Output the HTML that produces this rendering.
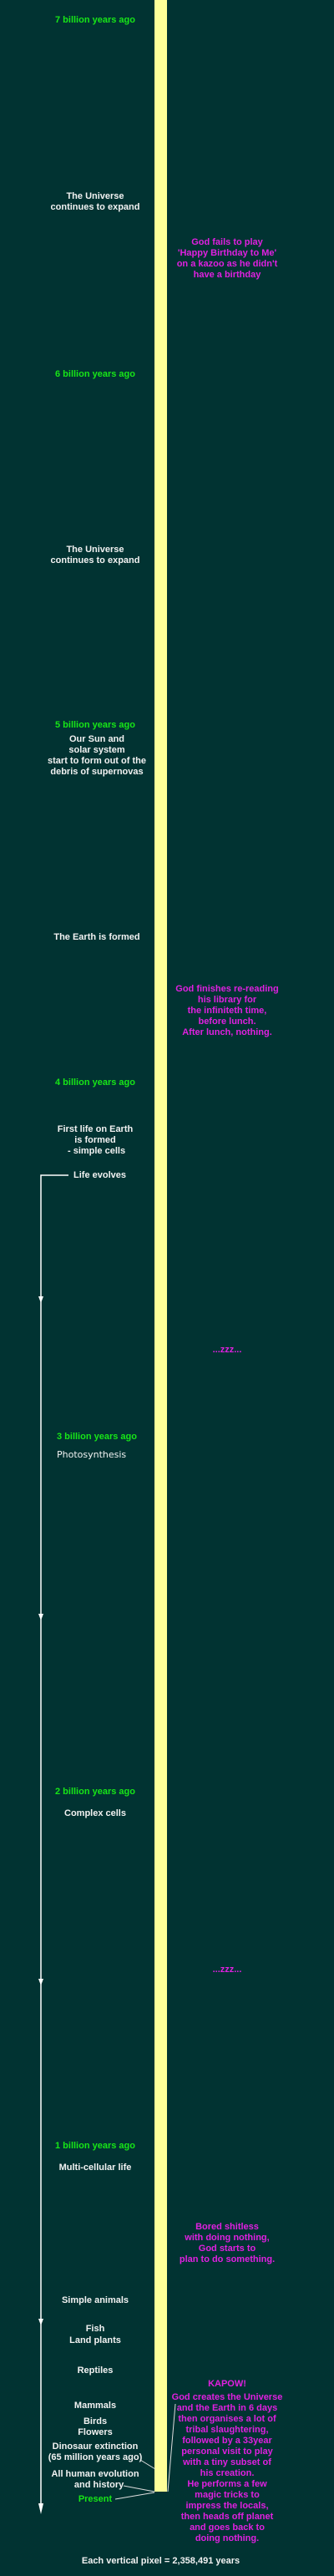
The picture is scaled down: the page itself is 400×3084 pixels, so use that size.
<!DOCTYPE html>
<html><head><meta charset="utf-8"><style>
html,body{margin:0;padding:0;}
body{width:400px;height:3084px;background:#013332;position:relative;overflow:hidden;font-family:"Liberation Sans",Arial,sans-serif;font-weight:bold;font-size:11px;line-height:13px;}
.t{position:absolute;text-align:center;white-space:nowrap;}
.l{left:0;width:228px;color:#f2f2f2;}
.g{color:#17e617;}
.r{left:172px;width:200px;color:#e020e0;}
svg{position:absolute;left:0;top:0;}
</style></head><body>
<svg width="400" height="3084">
<rect x="185" y="0" width="15" height="2983" fill="#ffff99"/>
<g stroke="#fff" stroke-width="1.5" fill="none">
<polyline points="82,1407 49,1407 49,3005"/>
</g>
<g fill="#fff">
<polygon points="46,1552 52,1552 49,1560"/>
<polygon points="46,1932 52,1932 49,1940"/>
<polygon points="46,2369 52,2369 49,2377"/>
<polygon points="46,2776 52,2776 49,2784"/>
<polygon points="46,2997 52,2997 49,3010"/>
</g>
<g stroke="#ddd" stroke-width="1">
<line x1="168" y1="2945" x2="186" y2="2956"/>
<line x1="148" y1="2976" x2="185" y2="2983"/>
<line x1="138" y1="2992" x2="185" y2="2984"/>
<line x1="210" y1="2878" x2="201" y2="2983"/>
</g>
</svg>
<div class="t l g" style="top:18px">7 billion years ago</div>
<div class="t l" style="top:229px">The Universe<br>continues to expand</div>
<div class="t r" style="top:284px">God fails to play<br>'Happy Birthday to Me'<br>on a kazoo as he didn't<br>have a birthday</div>
<div class="t l g" style="top:442px">6 billion years ago</div>
<div class="t l" style="top:652px">The Universe<br>continues to expand</div>
<div class="t l g" style="top:862px">5 billion years ago</div>
<div class="t l" style="top:879px;left:2px">Our Sun and<br>solar system<br>start to form out of the<br>debris of supernovas</div>
<div class="t l" style="top:1116px;left:2px">The Earth is formed</div>
<div class="t r" style="top:1178px">God finishes re-reading<br>his library for<br>the infiniteth time,<br>before lunch.<br>After lunch, nothing.</div>
<div class="t l g" style="top:1290px">4 billion years ago</div>
<div class="t l" style="top:1346px">First life on Earth<br>is formed<br>&nbsp;- simple cells</div>
<div class="t" style="top:1401px;left:88px;color:#f2f2f2">Life evolves</div>
<div class="t r" style="top:1610px">...zzz...</div>
<div class="t l g" style="top:1714px;left:2px">3 billion years ago</div>
<div class="t" style="top:1735px;left:68px;color:#f2f2f2;font-weight:normal;font-family:'DejaVu Sans',sans-serif;font-size:11px">Photosynthesis</div>
<div class="t l g" style="top:2139px">2 billion years ago</div>
<div class="t l" style="top:2165px">Complex cells</div>
<div class="t r" style="top:2352px">...zzz...</div>
<div class="t l g" style="top:2563px">1 billion years ago</div>
<div class="t l" style="top:2589px">Multi-cellular life</div>
<div class="t r" style="top:2660px">Bored shitless<br>with doing nothing,<br>God starts to<br>plan to do something.</div>
<div class="t l" style="top:2748px">Simple animals</div>
<div class="t l" style="top:2781px;line-height:14px">Fish<br>Land plants</div>
<div class="t l" style="top:2832px">Reptiles</div>
<div class="t l" style="top:2874px">Mammals</div>
<div class="t l" style="top:2893px">Birds<br>Flowers</div>
<div class="t l" style="top:2923px">Dinosaur extinction<br>(65 million years ago)</div>
<div class="t l" style="top:2956px">All human evolution<br>&nbsp;&nbsp;&nbsp;and history</div>
<div class="t l g" style="top:2986px">Present</div>
<div class="t r" style="top:2848px">KAPOW!</div>
<div class="t r" style="top:2864px">God creates the Universe<br>and the Earth in 6 days<br>then organises a lot of<br>tribal slaughtering,<br>followed by a 33year<br>personal visit to play<br>with a tiny subset of<br>his creation.<br>He performs a few<br>magic tricks to<br>impress the locals,<br>then heads off planet<br>and goes back to<br>doing nothing.</div>
<div class="t" style="top:3060px;left:0;width:385px;color:#f2f2f2">Each vertical pixel = 2,358,491 years</div>
</body></html>
